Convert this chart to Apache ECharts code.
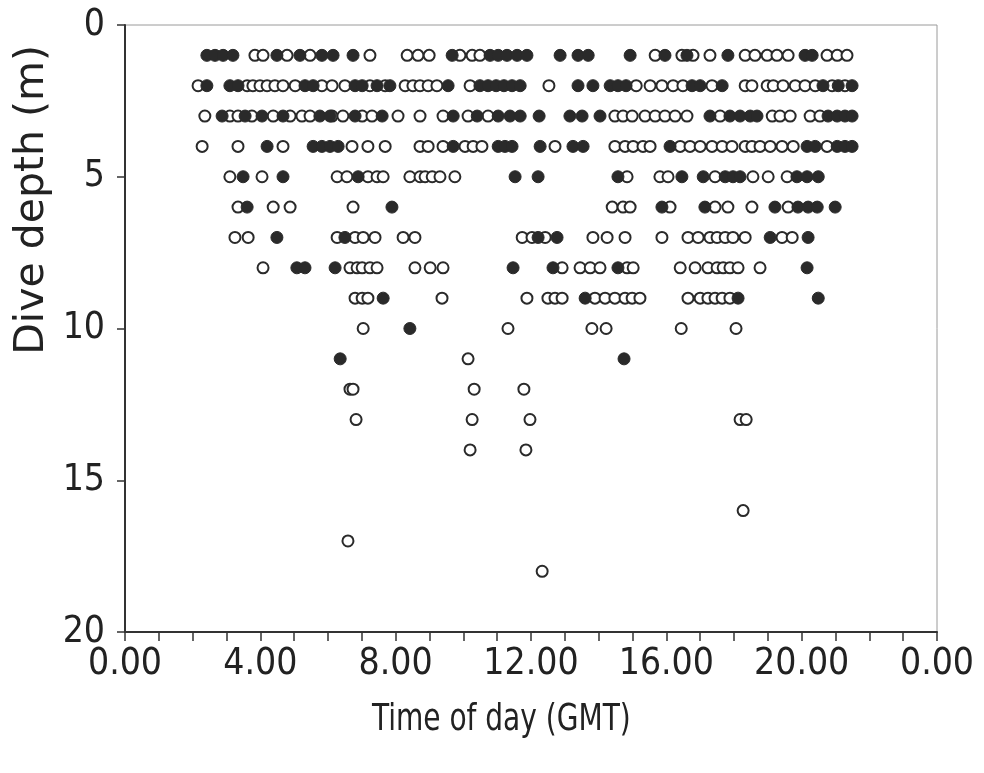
<!DOCTYPE html>
<html>
<head>
<meta charset="utf-8">
<script src="https://cdn.jsdelivr.net/npm/echarts@6/dist/echarts.min.js"></script>
<style>
html,body{margin:0;padding:0;background:#fff;}
#chart{width:984px;height:773px;}
</style>
</head>
<body>
<div id="chart"></div>
<script>
// Time of day (hours GMT) of dives, grouped by depth (m); open vs filled circles
const filledD1 = [2.42,2.66,2.90,3.19,4.49,5.17,5.82,6.15,6.74,9.67,10.79,11.03,11.29,11.59,11.88,12.86,13.39,13.69,14.93,15.96,16.61,17.82,20.10,20.31];
const openD1   = [3.84,4.08,4.79,5.47,7.24,8.34,8.66,8.99,9.90,10.26,10.49,15.67,16.46,16.79,17.29,18.33,18.62,18.98,19.27,19.60,20.75,21.05,21.34];
const filledD2 = [2.42,3.10,3.34,5.32,5.56,6.80,7.01,7.45,7.83,9.55,10.49,10.73,10.97,11.20,11.44,11.68,13.39,13.83,14.34,14.57,14.81,16.76,17.00,17.65,20.63,21.08,21.49];
const openD2   = [2.16,3.61,3.78,3.99,4.20,4.43,4.67,5.03,5.82,6.12,6.50,7.24,7.69,8.28,8.51,8.72,8.96,9.22,10.20,12.53,15.11,15.52,15.87,16.20,16.49,17.35,18.33,18.53,18.98,19.16,19.45,19.81,20.10,20.40,20.90,21.28];
const filledD3 = [2.87,3.55,4.05,4.67,5.76,6.06,6.80,7.60,9.70,10.41,11.03,11.38,11.68,12.24,13.15,13.51,14.04,17.29,17.88,18.18,18.48,18.68,20.78,21.05,21.28,21.49];
const openD3   = [2.36,3.10,3.34,3.75,4.38,4.88,5.23,5.47,6.12,6.44,7.01,7.30,8.07,8.72,9.40,10.14,10.73,14.48,14.72,14.99,15.37,15.67,15.96,16.26,16.61,17.59,19.13,19.36,19.66,20.25,20.54];
const filledD4 = [4.20,5.56,5.82,6.06,6.30,9.70,11.03,11.23,11.44,12.27,13.24,13.54,16.11,20.16,20.40,21.05,21.28,21.49];
const openD4   = [2.28,3.34,4.67,6.71,7.18,7.69,8.72,8.96,9.40,10.05,10.29,10.55,12.71,14.48,14.78,15.02,15.31,15.52,16.41,16.70,17.00,17.35,17.65,17.94,18.33,18.53,18.77,19.07,19.42,19.75,20.75];
const filledD5 = [3.49,4.67,6.89,11.53,12.21,14.57,16.46,17.09,17.74,17.97,18.18,19.86,20.16,20.49];
const openD5   = [3.10,4.05,6.27,6.56,7.18,7.45,7.63,8.42,8.72,8.87,9.08,9.31,9.75,14.84,15.81,16.05,17.44,18.56,19.01,19.57];
const filledD6 = [3.61,7.89,15.87,17.14,19.21,19.89,20.19,20.46,20.99];
const openD6   = [3.34,4.38,4.88,6.74,14.40,14.72,14.93,16.11,17.44,17.82,18.53,19.60];
const filledD7 = [4.49,6.50,12.21,12.77,19.07,20.19];
const openD7   = [3.25,3.64,6.27,6.80,7.04,7.39,8.22,8.57,11.74,12.03,12.42,13.83,14.25,14.78,15.87,16.64,16.94,17.29,17.50,17.74,17.97,18.33,19.42,19.72];
const filledD8 = [5.08,5.32,6.21,11.47,12.65,14.57,20.16];
const openD8   = [4.08,6.65,6.86,7.01,7.24,7.45,8.57,9.02,9.40,12.92,13.45,13.75,14.04,14.84,15.02,16.41,16.85,17.23,17.50,17.68,17.88,18.12,18.77];
const filledD9 = [7.63,13.60,18.12,20.49];
const openD9   = [6.80,7.01,7.18,9.37,11.88,12.50,12.71,12.92,13.89,14.19,14.48,14.78,14.99,15.22,16.64,17.00,17.23,17.44,17.65,17.88];
const filledD10 = [8.42];
const openD10   = [7.04,11.32,13.80,14.22,16.44,18.06];
const filledD11 = [6.36,14.75];
const openD11   = [10.14];
const openD12   = [6.65,6.74,10.32,11.79];
const openD13   = [6.83,10.26,11.97,18.18,18.36];
const openD14   = [10.20,11.85];
const openD16   = [18.27];
const openD17   = [6.59];
const openD18   = [12.33];

const xTicks = [0, 4, 8, 12, 16, 20, 24];
const yTicks = [0, 5, 10, 15, 20];

const filledGroups = [[1,filledD1],[2,filledD2],[3,filledD3],[4,filledD4],[5,filledD5],[6,filledD6],[7,filledD7],[8,filledD8],[9,filledD9],[10,filledD10],[11,filledD11]];
const openGroups = [[1,openD1],[2,openD2],[3,openD3],[4,openD4],[5,openD5],[6,openD6],[7,openD7],[8,openD8],[9,openD9],[10,openD10],[11,openD11],[12,openD12],[13,openD13],[14,openD14],[16,openD16],[17,openD17],[18,openD18]];

function build(groups){
  const out = [];
  groups.forEach(([d, arr]) => arr.forEach(t => out.push([t, d])));
  return out;
}

const FONT = "'DejaVu Sans Condensed', 'DejaVu Sans', sans-serif";
const chart = echarts.init(document.getElementById('chart'), null, {renderer:'canvas'});
chart.setOption({
  animation: false,
  backgroundColor: '#fff',
  grid: {left:125, right:47, top:25, bottom:141, show:true, borderColor:'#9a9a9a', borderWidth:1},
  xAxis: {
    type:'value', min:0, max:24, interval:4,
    axisLine:{show:true, onZero:false, lineStyle:{color:'#333', width:2}},
    axisTick:{show:true, inside:false, length:9, lineStyle:{color:'#333', width:1.5}},
    minorTick:{show:true, splitNumber:4, length:9, lineStyle:{color:'#333', width:1.5}},
    splitLine:{show:false},
    axisLabel:{fontFamily:FONT, fontSize:37, color:'#222', margin:14,
      formatter: v => xTicks.includes(v) ? (v % 24).toFixed(2) : ''}
  },
  yAxis: {
    type:'value', min:0, max:20, interval:5, inverse:true,
    axisLine:{show:true, onZero:false, lineStyle:{color:'#333', width:2}},
    axisTick:{show:true, inside:false, length:8, lineStyle:{color:'#333', width:1.5}},
    splitLine:{show:false},
    axisLabel:{fontFamily:FONT, fontSize:37, color:'#222', margin:20,
      formatter: v => yTicks.includes(v) ? String(v) : ''}
  },
  graphic: [
    {type:'text', left:12, top:45, rotation:Math.PI/2,
     style:{text:'Dive depth (m)', fontFamily:"'DejaVu Sans', sans-serif", fontSize:41, fill:'#222'}},
    {type:'text', left:372, top:701, scaleX:0.82,
     style:{text:'Time of day (GMT)', fontFamily:FONT, fontSize:38, fill:'#222'}}
  ],
  series: [
    {type:'scatter', name:'open', data: build(openGroups), symbol:'circle', symbolSize:11,
     itemStyle:{color:'#fff', borderColor:'#2a2a2a', borderWidth:2, opacity:1}},
    {type:'scatter', name:'filled', data: build(filledGroups), symbol:'circle', symbolSize:12,
     itemStyle:{color:'#2a2a2a', borderColor:'#2a2a2a', borderWidth:1, opacity:1}}
  ]
});
</script>
</body>
</html>
